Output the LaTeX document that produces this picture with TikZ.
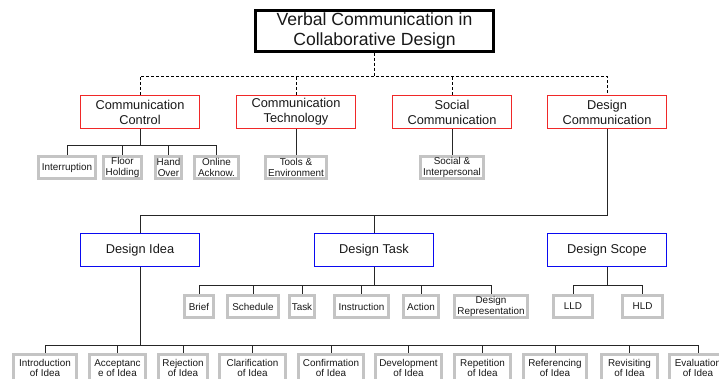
\documentclass[tikz,border=0pt]{standalone}
\usepackage{fontspec}
\setmainfont{Liberation Sans}
\definecolor{boxgray}{RGB}{196,196,196}
\definecolor{boxred}{RGB}{240,40,40}
\definecolor{boxblue}{RGB}{10,10,240}
\definecolor{txt}{RGB}{25,25,25}
\begin{document}
\begin{tikzpicture}[x=1pt,y=-1pt,
  titlebox/.style={draw=black,line width=2.4pt,minimum width=238pt,minimum height=41pt,inner sep=0pt,align=center,font=\fontsize{17.6}{19.5}\selectfont,text=txt},
  redbox/.style={draw=boxred,line width=1.3pt,minimum width=119pt,minimum height=33pt,inner sep=0pt,align=center,font=\fontsize{12.8}{15}\selectfont,text=txt},
  bluebox/.style={draw=boxblue,line width=1.3pt,minimum width=119pt,minimum height=33pt,inner sep=0pt,align=center,font=\fontsize{12.8}{15}\selectfont,text=txt},
  graybox/.style={draw=boxgray,line width=2.6pt,minimum height=22.5pt,inner sep=0pt,align=center,font=\fontsize{9.9}{10.7}\selectfont,text=txt},
  lowbox/.style={graybox,minimum height=27.5pt},
  dashlink/.style={draw=black,line width=0.9pt,dash pattern=on 3pt off 2pt},
  link/.style={draw=black!85,line width=0.9pt}
]
\useasboundingbox (0,0) rectangle (719,379);
\fill[white] (0,0) rectangle (719,379);

% title
\node[titlebox] (top) at (374.5,31) {Verbal Communication in\\Collaborative Design};

% level 1
\node[redbox] (cc) at (140,112) {Communication\\Control};
\node[redbox] (ct) at (296,112) {Communication\\Technology};
\node[redbox] (sc) at (452,112) {Social\\Communication};
\node[redbox] (dc) at (607,112) {Design\\Communication};

\coordinate (bus0) at (0,76);
\draw[dashlink] (top.south) -- (top.south |- bus0);
\draw[dashlink] (cc.north) |- (dc.north |- bus0) -- (dc.north);
\draw[dashlink] (ct.north) -- (ct.north |- bus0);
\draw[dashlink] (sc.north) -- (sc.north |- bus0);

% communication control children
\node[graybox,minimum width=57.5pt] (int) at (67,167.5) {Interruption};
\node[graybox,minimum width=38.5pt] (fh) at (122.5,167.5) {Floor\\Holding};
\node[graybox,minimum width=26.5pt] (ho) at (168.5,167.5) {Hand\\Over};
\node[graybox,minimum width=44.5pt] (oa) at (216.5,167.5) {Online\\Acknow.};
\coordinate (bus1) at (0,145);
\draw[link] (cc.south) -- (cc.south |- bus1);
\draw[link] (int.north) |- (oa.north |- bus1) -- (oa.north);
\draw[link] (fh.north) -- (fh.north |- bus1);
\draw[link] (ho.north) -- (ho.north |- bus1);

\node[graybox,minimum width=61.5pt] (te) at (296,167.5) {Tools \&\\Environment};
\draw[link] (ct.south) -- (te.north);
\node[graybox,minimum width=63.5pt] (si) at (452,167.5) {Social \&\\Interpersonal};
\draw[link] (sc.south) -- (si.north);

% level 2
\node[bluebox] (di) at (140,250) {Design Idea};
\node[bluebox] (dt) at (374,250) {Design Task};
\node[bluebox] (ds) at (607,250) {Design Scope};
\coordinate (bus2) at (0,215);
\draw[link] (dc.south) |- (di.north |- bus2) -- (di.north);
\draw[link] (dt.north) -- (dt.north |- bus2);

% design task children
\node[graybox,minimum width=29.5pt] (br) at (199,306.5) {Brief};
\node[graybox,minimum width=51.5pt] (sch) at (253,306.5) {Schedule};
\node[graybox,minimum width=25.5pt] (tk) at (302,306.5) {Task};
\node[graybox,minimum width=54.5pt] (ins) at (361.5,306.5) {Instruction};
\node[graybox,minimum width=35.5pt] (act) at (421,306.5) {Action};
\node[graybox,minimum width=73.5pt] (drp) at (491,306.5) {Design\\Representation};
\coordinate (bus3) at (0,285);
\draw[link] (dt.south) -- (dt.south |- bus3);
\draw[link] (br.north) |- (drp.north |- bus3) -- (drp.north);
\foreach \n in {sch,tk,ins,act} \draw[link] (\n.north) -- (\n.north |- bus3);

% design scope children
\node[graybox,minimum width=39.5pt] (lld) at (573,306.5) {LLD};
\node[graybox,minimum width=40.5pt] (hld) at (642.5,306.5) {HLD};
\draw[link] (ds.south) -- (ds.south |- bus3);
\draw[link] (lld.north) |- (hld.north |- bus3) -- (hld.north);

% design idea children
\node[lowbox,minimum width=63.5pt] (i1) at (45,368) {Introduction\\of Idea};
\node[lowbox,minimum width=56.5pt] (i2) at (117.5,368) {Acceptanc\\e of Idea};
\node[lowbox,minimum width=49.5pt] (i3) at (183,368) {Rejection\\of Idea};
\node[lowbox,minimum width=66.5pt] (i4) at (252.5,368) {Clarification\\of Idea};
\node[lowbox,minimum width=65.5pt] (i5) at (331,368) {Confirmation\\of Idea};
\node[lowbox,minimum width=66.5pt] (i6) at (408.5,368) {Development\\of Idea};
\node[lowbox,minimum width=56.5pt] (i7) at (482.5,368) {Repetition\\of Idea};
\node[lowbox,minimum width=63.5pt] (i8) at (555,368) {Referencing\\of Idea};
\node[lowbox,minimum width=56.5pt] (i9) at (629.5,368) {Revisiting\\of Idea};
\node[lowbox,minimum width=57.5pt] (i10) at (698,368) {Evaluation\\of Idea};
\coordinate (bus4) at (0,345);
\draw[link] (di.south) -- (di.south |- bus4);
\draw[link] (i1.north) |- (i10.north |- bus4) -- (i10.north);
\foreach \n in {i2,i3,i4,i5,i6,i7,i8,i9} \draw[link] (\n.north) -- (\n.north |- bus4);
\end{tikzpicture}
\end{document}
